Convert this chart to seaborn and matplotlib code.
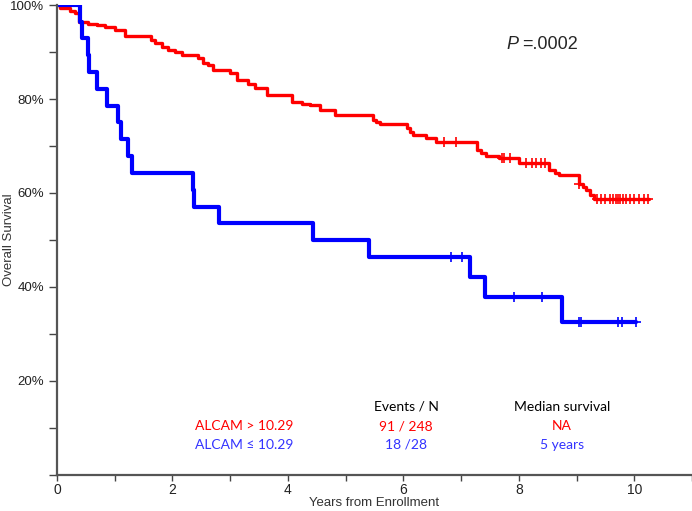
import numpy as np
import pandas as pd
import seaborn as sns
from matplotlib import pyplot as plt

# ALCAM > 10.29 (红色)
high_t = [0, 0.05, 0.22, 0.31, 0.38, 0.54, 0.70, 0.83, 1.0, 1.18, 1.62, 1.70, 1.82, 1.92,
          2.05, 2.16, 2.44, 2.53, 2.62, 2.70, 2.99, 3.11, 3.30, 3.43, 3.63, 4.07, 4.25,
          4.38, 4.55, 4.81, 5.47, 5.52, 5.59, 6.06, 6.12, 6.16, 6.40, 6.57, 7.27, 7.35,
          7.44, 7.66, 8.01, 8.53, 8.62, 8.70, 9.05, 9.12, 9.17, 9.24, 9.31, 10.26]
high_s = [100, 99.3, 98.8, 98.3, 96.4, 96.0, 95.7, 95.3, 94.7, 93.4, 92.6, 91.9, 91.1, 90.4,
          89.9, 89.4, 88.7, 87.6, 87.2, 86.2, 85.5, 84.0, 83.2, 82.3, 80.9, 79.4, 79.0,
          78.7, 77.7, 76.6, 75.5, 75.1, 74.7, 73.8, 73.0, 72.3, 71.7, 70.9, 69.1, 68.5,
          67.9, 67.4, 66.4, 64.9, 64.3, 63.8, 62.0, 61.3, 60.6, 59.6, 58.7, 58.7]
high_cens = [6.71, 6.92, 7.70, 7.75, 7.84, 8.13, 8.22, 8.30, 8.39, 8.46, 9.05,
             9.35, 9.42, 9.50, 9.58, 9.63, 9.68, 9.72, 9.76, 9.80, 9.85, 9.92,
             10.0, 10.08, 10.16, 10.24]

# ALCAM <= 10.29 (蓝色)
low_t = [0, 0.40, 0.43, 0.54, 0.56, 0.69, 0.86, 1.05, 1.11, 1.23, 1.30, 2.35, 2.38,
         2.80, 4.43, 5.40, 7.15, 7.42, 8.75, 10.03]
low_s = [100, 96.4, 92.9, 89.3, 85.7, 82.1, 78.6, 75.0, 71.4, 67.9, 64.3, 60.7, 57.1,
         53.6, 50.0, 46.4, 42.1, 37.9, 32.5, 32.5]
low_cens = [6.83, 7.01, 7.91, 8.40, 9.05, 9.08, 9.72, 9.78, 10.03]

x_ticks = [0, 2, 4, 6, 8, 10]
y_ticks = [20, 40, 60, 80, 100]


def censor_points(t, s, c):
    idx = np.searchsorted(t, c, side='right') - 1
    return np.array(c), np.array(s)[idx]


sns.set_style('ticks')
plt.rcParams['font.family'] = ['Liberation Sans', 'DejaVu Sans']

fig = plt.figure(figsize=(6.92, 5.11), dpi=100)
ax = fig.add_axes([0.0824, 0.0705, 0.9176, 0.9197])

for t, s, c, color, lw in [(high_t, high_s, high_cens, '#ff0000', 2.4),
                           (low_t, low_s, low_cens, '#0000ff', 3.0)]:
    sns.lineplot(x=t, y=s, ax=ax, color=color, linewidth=lw, drawstyle='steps-post',
                 estimator=None, sort=False)
    cx, cy = censor_points(t, s, c)
    sns.scatterplot(x=cx, y=cy, ax=ax, color=color, marker='+', s=45, linewidth=1.2)

ax.set_xlim(0, 11)
ax.set_ylim(0, 100)
ax.set_xticks(range(0, 12))
ax.set_xticklabels([str(v) if v in x_ticks else '' for v in range(0, 12)])
ax.set_yticks(range(0, 101, 10))
ax.set_yticklabels([f'{v}%' if v in y_ticks else '' for v in range(0, 101, 10)])
ax.tick_params(axis='y', length=6, width=1, colors='#444444', labelsize=9.5, labelcolor='#222222')
ax.tick_params(axis='x', length=4, width=1, pad=2, colors='#444444', labelsize=10,
               labelcolor='#222222')
for side in ['top', 'right']:
    ax.spines[side].set_visible(False)
for side in ['left', 'bottom']:
    ax.spines[side].set_linewidth(1.6)
    ax.spines[side].set_color('#555555')

ax.set_ylabel('Overall Survival', fontsize=9.5, color='#333333',
              family=['Liberation Sans Narrow', 'Liberation Sans'])
ax.yaxis.set_label_coords(-0.066, 0.5)
ax.set_xlabel('Years from Enrollment', fontsize=9.5, color='#333333')
ax.xaxis.set_label_coords(0.5, -0.047)

# P 值
ax.text(7.99, 91.5, 'P', fontsize=13, style='italic', ha='right', va='center')
ax.text(8.05, 91.5, '=.0002', fontsize=13, ha='left', va='center')

# 图例表格
tfont = ['Lato', 'DejaVu Sans']
rows = [
    (14.5, ['', 'Events / N', 'Median survival'], '#000000'),
    (10.4, ['ALCAM > 10.29', '91 / 248', 'NA'], '#ff0000'),
    (6.4, ['ALCAM \u2264 10.29', '18 /28', '5 years'], '#3333ff'),
]
col_x = [3.25, 6.05, 8.75]
for y, labels, color in rows:
    for x, lab in zip(col_x, labels):
        ax.text(x, y, lab, fontsize=10, color=color, ha='center', va='center', family=tfont)

fig.savefig('out.png', dpi=100)
